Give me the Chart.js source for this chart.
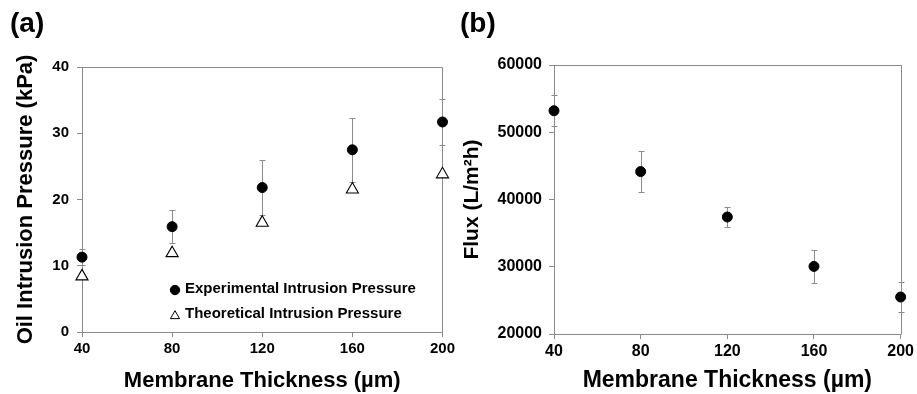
<!DOCTYPE html>
<html>
<head>
<meta charset="utf-8">
<script src="https://cdn.jsdelivr.net/npm/chart.js@4.4.0/dist/chart.umd.min.js"></script>
<style>
  html, body { margin:0; padding:0; background:#fff; }
  #wrap { position:relative; width:917px; height:394px; overflow:hidden; font-family:'Liberation Sans', Arial, sans-serif; }
  .panel { position:absolute; top:0; height:394px; }
  .lab { position:absolute; top:9px; font-size:28px; line-height:28px; font-weight:bold; color:#000; }
</style>
</head>
<body>
<div id="wrap">
  <div class="panel" style="left:0;width:458px;"><canvas id="cA" width="458" height="394"></canvas></div>
  <div class="panel" style="left:458px;width:459px;"><canvas id="cB" width="459" height="394"></canvas></div>
  <div class="lab" style="left:10px;">(a)</div>
  <div class="lab" style="left:460px;">(b)</div>
</div>
<script>
// ---- data ----
const thickness = [40, 80, 120, 160, 200];
const expPressure = [11.3, 15.9, 21.8, 27.5, 31.7];
const expPressureErr = [1.2, 2.5, 4.2, 4.8, 3.4];
const theoPressure = [8.4, 11.9, 16.5, 21.5, 23.8];
const flux = [53200, 44150, 37400, 30050, 25500];
const fluxErr = [2300, 3000, 1450, 2450, 2200];
const thicknessTicks = [40, 80, 120, 160, 200];
const pressureTicks = [0, 10, 20, 30, 40];
const fluxTicks = [20000, 30000, 40000, 50000, 60000];
const seriesNames = ['Experimental Intrusion Pressure', 'Theoretical Intrusion Pressure'];

Chart.defaults.font.family = "'Liberation Sans', Arial, sans-serif";
Chart.defaults.color = '#000';
const AXIS = '#8a8a8a';

const toXY = (xs, ys) => xs.map((x, i) => ({x: x, y: ys[i]}));

const errorBars = {
  id: 'errorBars',
  beforeDatasetsDraw(chart) {
    const {ctx, scales: {x, y}} = chart;
    chart.data.datasets.forEach(ds => {
      if (!ds.errors) return;
      ctx.save();
      ctx.strokeStyle = '#8c8c8c';
      ctx.lineWidth = 1;
      ds.data.forEach((pt, j) => {
        const e = ds.errors[j];
        const px = Math.round(x.getPixelForValue(pt.x)) + 0.5;
        const t = Math.round(y.getPixelForValue(pt.y + e)) + 0.5;
        const b = Math.round(y.getPixelForValue(pt.y - e)) + 0.5;
        ctx.beginPath();
        ctx.moveTo(px, t); ctx.lineTo(px, b);
        ctx.moveTo(px - 3, t); ctx.lineTo(px + 3, t);
        ctx.moveTo(px - 3, b); ctx.lineTo(px + 3, b);
        ctx.stroke();
      });
      ctx.restore();
    });
  }
};

const frame = {
  id: 'frame',
  beforeDatasetsDraw(chart) {
    const {ctx, chartArea: a} = chart;
    ctx.save();
    ctx.strokeStyle = AXIS;
    ctx.lineWidth = 1;
    const l = Math.round(a.left) + 0.5, r = Math.round(a.right) + 0.5;
    const t = Math.round(a.top) + 0.5, b = Math.round(a.bottom) + 0.5;
    ctx.beginPath();
    ctx.moveTo(l, t); ctx.lineTo(r, t); ctx.lineTo(r, b);
    ctx.stroke();
    ctx.restore();
  }
};

const innerLegend = {
  id: 'innerLegend',
  afterDraw(chart, args, opts) {
    if (!opts.items) return;
    const {ctx} = chart;
    ctx.save();
    opts.items.forEach(it => {
      ctx.fillStyle = it.fill; ctx.strokeStyle = '#000'; ctx.lineWidth = 1;
      ctx.beginPath();
      if (it.style === 'circle') {
        ctx.arc(it.mx, it.my, it.radius, 0, Math.PI * 2);
      } else {
        const r = it.radius;
        ctx.moveTo(it.mx, it.my - r);
        ctx.lineTo(it.mx + r * Math.sin(Math.PI * 2 / 3), it.my - r * Math.cos(Math.PI * 2 / 3));
        ctx.lineTo(it.mx + r * Math.sin(Math.PI * 4 / 3), it.my - r * Math.cos(Math.PI * 4 / 3));
        ctx.closePath();
      }
      ctx.fill(); ctx.stroke();
      ctx.fillStyle = '#000';
      ctx.font = "bold 15px 'Liberation Sans', Arial, sans-serif";
      ctx.textBaseline = 'middle';
      ctx.textAlign = 'left';
      ctx.fillText(it.text, it.tx, it.ty);
    });
    ctx.restore();
  }
};

function xScale(height, fontTick, fontTitle) {
  return {
    type: 'linear', min: 40, max: 200,
    afterBuildTicks: s => { s.ticks = thicknessTicks.map(v => ({value: v})); },
    grid: {display: true, drawOnChartArea: false, drawTicks: true, tickLength: 5, color: AXIS},
    border: {display: true, color: AXIS, width: 1},
    ticks: {color: '#000', font: {size: fontTick, weight: 'bold'}, padding: 3, maxRotation: 0,
            callback: v => String(v)},
    title: {display: true, text: 'Membrane Thickness (µm)', color: '#000',
            font: {size: fontTitle, weight: 'bold'}, padding: {top: 0, bottom: 0}},
    afterFit: s => { s.height = height; }
  };
}
function yScale(width, min, max, ticksArr, title, titleSize, titlePad, tickPad, fontTick) {
  return {
    min: min, max: max,
    afterBuildTicks: s => { s.ticks = ticksArr.map(v => ({value: v})); },
    grid: {display: true, drawOnChartArea: false, drawTicks: true, tickLength: 5, color: AXIS},
    border: {display: true, color: AXIS, width: 1},
    ticks: {color: '#000', font: {size: fontTick, weight: 'bold'}, padding: tickPad,
            callback: v => String(v)},
    title: {display: true, text: title, color: '#000',
            font: {size: titleSize, weight: 'bold'}, padding: {top: titlePad, bottom: 0}},
    afterFit: s => { s.width = width; }
  };
}

new Chart(document.getElementById('cA'), {
  type: 'scatter',
  data: {
    datasets: [
      {label: seriesNames[0], data: toXY(thickness, expPressure), errors: expPressureErr,
       pointStyle: 'circle', pointRadius: 5, backgroundColor: '#000', borderColor: '#000',
       borderWidth: 1, clip: false},
      {label: seriesNames[1], data: toXY(thickness, theoPressure),
       pointStyle: 'triangle', pointRadius: 7, backgroundColor: '#fff', borderColor: '#000',
       borderWidth: 1.1, clip: false}
    ]
  },
  options: {
    responsive: false, animation: false, devicePixelRatio: 1,
    layout: {padding: {top: 67, right: 15, left: 0, bottom: 0}},
    scales: {
      x: xScale(62, 15, 22),
      y: yScale(82, 0, 40, pressureTicks, 'Oil Intrusion Pressure (kPa)', 22, 13, 8, 15)
    },
    plugins: {
      legend: {display: false}, tooltip: {enabled: false},
      innerLegend: {items: [
        {style: 'circle', radius: 4.7, fill: '#000', mx: 175, my: 290, text: seriesNames[0], tx: 185, ty: 289},
        {style: 'triangle', radius: 5.3, fill: '#fff', mx: 175, my: 316, text: seriesNames[1], tx: 185, ty: 314}
      ]}
    }
  },
  plugins: [frame, errorBars, innerLegend]
});

new Chart(document.getElementById('cB'), {
  type: 'scatter',
  data: {
    datasets: [
      {label: 'Flux', data: toXY(thickness, flux), errors: fluxErr,
       pointStyle: 'circle', pointRadius: 5, backgroundColor: '#000', borderColor: '#000',
       borderWidth: 1, clip: false}
    ]
  },
  options: {
    responsive: false, animation: false, devicePixelRatio: 1,
    layout: {padding: {top: 65, right: 12, left: 0, bottom: 0}},
    scales: {
      x: xScale(60, 16, 23),
      y: yScale(96, 20000, 60000, fluxTicks, 'Flux (L/m²h)', 21, 1.5, 7, 16)
    },
    plugins: {legend: {display: false}, tooltip: {enabled: false}}
  },
  plugins: [frame, errorBars]
});
</script>
</body>
</html>
